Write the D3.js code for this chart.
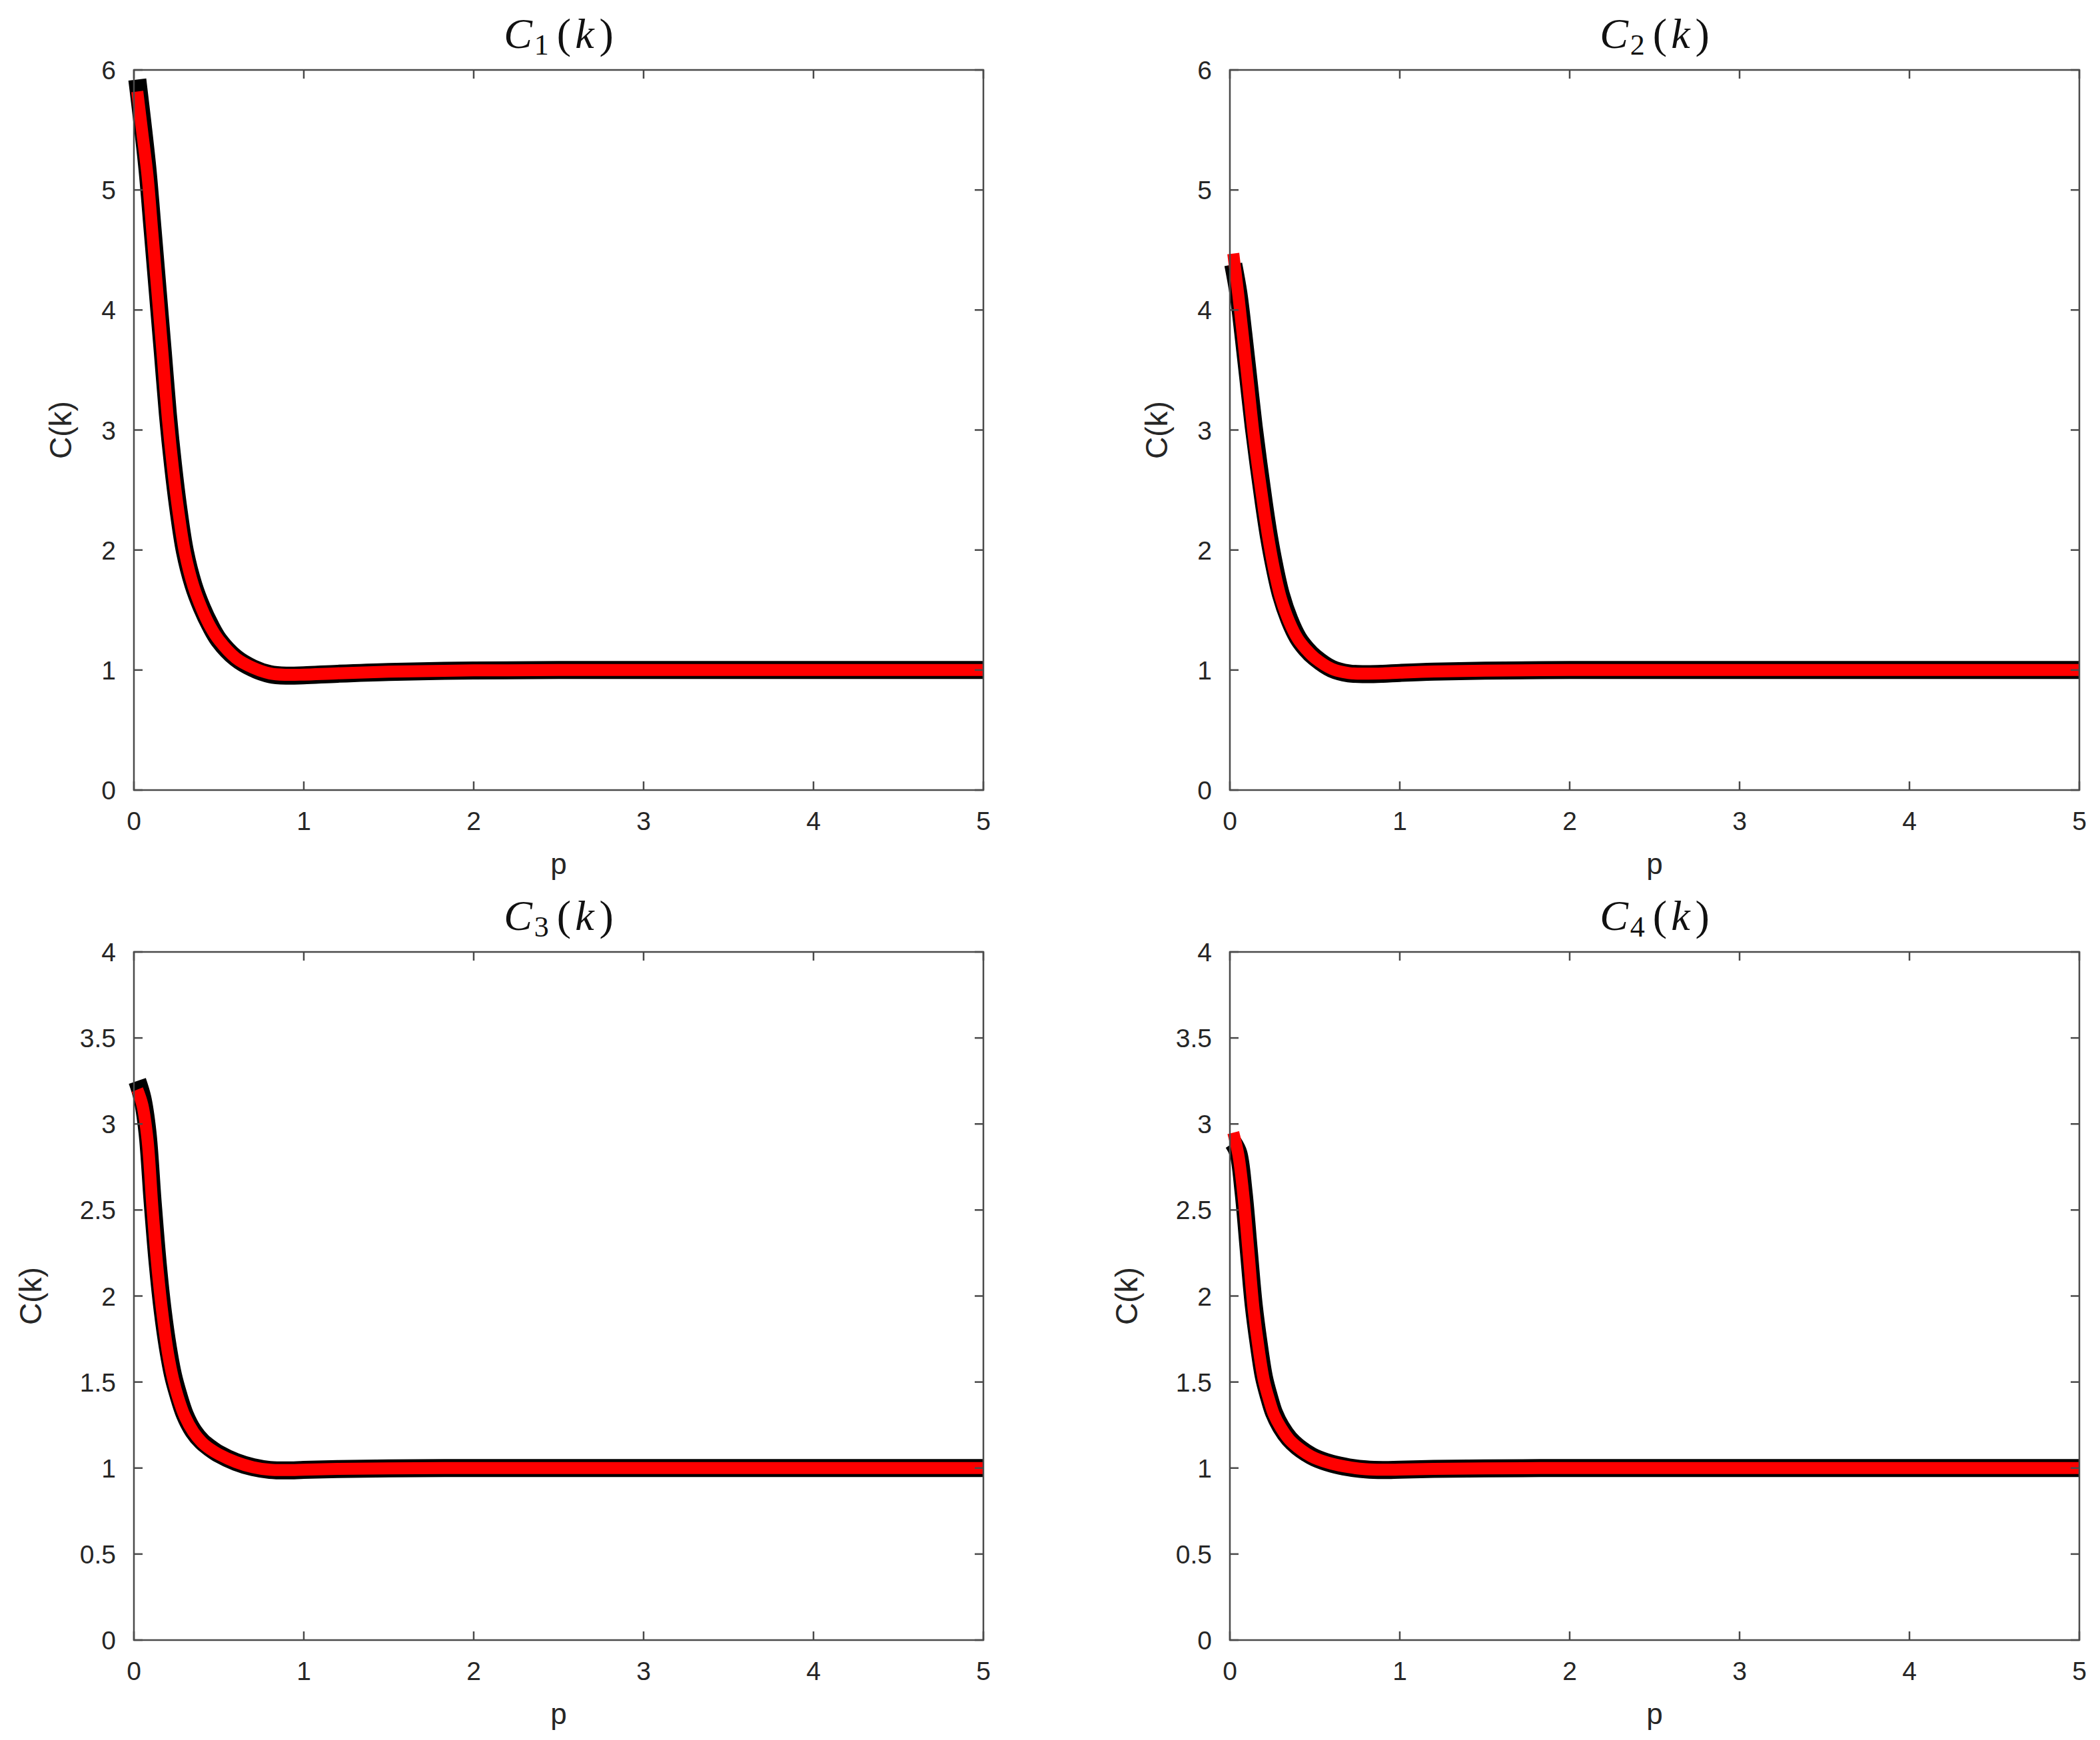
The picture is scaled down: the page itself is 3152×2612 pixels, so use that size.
<!DOCTYPE html>
<html>
<head>
<meta charset="utf-8">
<script src="https://cdn.jsdelivr.net/npm/d3@7"></script>
<style>
  html, body { margin: 0; padding: 0; background: #fff; }
  svg { display: block; }
  .tick-label { font-family: "Liberation Sans", Arial, Helvetica, sans-serif; fill: #262626; }
  .axis-label { font-family: "Liberation Sans", Arial, Helvetica, sans-serif; fill: #262626; }
  .title { font-family: "Liberation Serif", "DejaVu Serif", serif; fill: #111; }
</style>
</head>
<body>
<div id="chart"></div>
<script>
// ---- data ----
const pGrid = [0.02, 0.05, 0.08, 0.11, 0.14, 0.17, 0.20, 0.23, 0.26, 0.30, 0.35, 0.40, 0.45,
               0.50, 0.60, 0.70, 0.80, 0.90, 1.00, 1.20, 1.50, 2.00, 2.50, 3.00, 3.50, 4.00, 4.50, 5.00];

const c1Black = [5.92, 5.56, 5.17, 4.67, 4.16, 3.65, 3.13, 2.71, 2.36, 1.99, 1.71, 1.52, 1.37,
                 1.25, 1.10, 1.015, 0.966, 0.953, 0.956, 0.969, 0.984, 0.996, 1.0, 1.0, 1.0, 1.0, 1.0, 1.0];
const c1Red   = [5.82, 5.47, 5.12, 4.62, 4.12, 3.61, 3.09, 2.68, 2.34, 1.98, 1.70, 1.51, 1.36,
                 1.25, 1.10, 1.02, 0.972, 0.960, 0.962, 0.973, 0.986, 0.997, 1.0, 1.0, 1.0, 1.0, 1.0, 1.0];

const c2Black = [4.38, 4.14, 3.79, 3.41, 3.03, 2.70, 2.39, 2.11, 1.88, 1.63, 1.42, 1.27, 1.175,
                 1.105, 1.01, 0.972, 0.966, 0.969, 0.976, 0.987, 0.995, 1.0, 1.0, 1.0, 1.0, 1.0, 1.0, 1.0];
const c2Red   = [4.47, 4.12, 3.74, 3.35, 2.96, 2.64, 2.34, 2.07, 1.84, 1.60, 1.40, 1.26, 1.17,
                 1.10, 1.01, 0.975, 0.970, 0.972, 0.978, 0.988, 0.995, 1.0, 1.0, 1.0, 1.0, 1.0, 1.0, 1.0];

const c3Black = [3.25, 3.15, 2.95, 2.55, 2.19, 1.91, 1.70, 1.54, 1.43, 1.31, 1.215, 1.155, 1.115,
                 1.082, 1.035, 1.005, 0.989, 0.986, 0.989, 0.994, 0.998, 1.0, 1.0, 1.0, 1.0, 1.0, 1.0, 1.0];
const c3Red   = [3.20, 3.11, 2.91, 2.50, 2.15, 1.88, 1.67, 1.52, 1.41, 1.30, 1.21, 1.15, 1.11,
                 1.08, 1.035, 1.005, 0.990, 0.988, 0.990, 0.995, 0.998, 1.0, 1.0, 1.0, 1.0, 1.0, 1.0, 1.0];

const c4Black = [2.89, 2.83, 2.61, 2.28, 1.95, 1.72, 1.53, 1.415, 1.32, 1.24, 1.17, 1.123, 1.088,
                 1.06, 1.025, 1.004, 0.992, 0.988, 0.990, 0.995, 0.998, 1.0, 1.0, 1.0, 1.0, 1.0, 1.0, 1.0];
const c4Red   = [2.95, 2.82, 2.58, 2.25, 1.92, 1.69, 1.51, 1.40, 1.31, 1.235, 1.165, 1.12, 1.085,
                 1.058, 1.025, 1.005, 0.993, 0.990, 0.991, 0.995, 0.998, 1.0, 1.0, 1.0, 1.0, 1.0, 1.0, 1.0];

const xTicks      = [0, 1, 2, 3, 4, 5];
const yTicksTop   = [0, 1, 2, 3, 4, 5, 6];
const yTicksBot   = [0, 0.5, 1, 1.5, 2, 2.5, 3, 3.5, 4];
const titleSubs   = ["1", "2", "3", "4"];
const xLabel = "p";
const yLabel = "C(k)";

// ---- layout ----
const W = 3152, H = 2612;
const cols = [{ x0: 201, x1: 1476 }, { x0: 1846, x1: 3121 }];
const rows = [{ y0: 105, y1: 1186, ticks: yTicksTop, ylabOff: 111 },
              { y0: 1429, y1: 2462, ticks: yTicksBot, ylabOff: 156 }];

const panels = [
  { col: 0, row: 0, black: c1Black, red: c1Red, sub: titleSubs[0] },
  { col: 1, row: 0, black: c2Black, red: c2Red, sub: titleSubs[1] },
  { col: 0, row: 1, black: c3Black, red: c3Red, sub: titleSubs[2] },
  { col: 1, row: 1, black: c4Black, red: c4Red, sub: titleSubs[3] }
];

const AXIS_COLOR = "#4a4a4a";
const TICK_LEN = 13;
const fmt = d3.format("~g");

const svg = d3.select("#chart").append("svg")
  .attr("width", W).attr("height", H);
svg.append("rect").attr("width", W).attr("height", H).attr("fill", "#fff");

panels.forEach(pn => {
  const c = cols[pn.col], r = rows[pn.row];
  const yTicks = r.ticks;
  const x = d3.scaleLinear().domain([0, 5]).range([c.x0, c.x1]);
  const y = d3.scaleLinear().domain([0, d3.max(yTicks)]).range([r.y1, r.y0]);

  const g = svg.append("g");

  // curves: black underneath, red on top
  const line = d3.line()
    .x((d, i) => x(pGrid[i]))
    .y(d => y(d))
    .curve(d3.curveCatmullRom.alpha(0.5));

  g.append("path").datum(pn.black)
    .attr("d", line).attr("fill", "none")
    .attr("stroke", "#000").attr("stroke-width", 27)
    .attr("stroke-linejoin", "round").attr("stroke-linecap", "butt");

  g.append("path").datum(pn.red)
    .attr("d", line).attr("fill", "none")
    .attr("stroke", "#ff0000").attr("stroke-width", 18)
    .attr("stroke-linejoin", "round").attr("stroke-linecap", "butt");

  // box
  g.append("rect")
    .attr("x", c.x0).attr("y", r.y0)
    .attr("width", c.x1 - c.x0).attr("height", r.y1 - r.y0)
    .attr("fill", "none").attr("stroke", AXIS_COLOR).attr("stroke-width", 2.5);

  // ticks (inward, mirrored on top/right)
  const tk = g.append("g").attr("stroke", AXIS_COLOR).attr("stroke-width", 2.5);
  xTicks.forEach(t => {
    tk.append("line").attr("x1", x(t)).attr("x2", x(t)).attr("y1", r.y1).attr("y2", r.y1 - TICK_LEN);
    tk.append("line").attr("x1", x(t)).attr("x2", x(t)).attr("y1", r.y0).attr("y2", r.y0 + TICK_LEN);
  });
  yTicks.forEach(t => {
    tk.append("line").attr("x1", c.x0).attr("x2", c.x0 + TICK_LEN).attr("y1", y(t)).attr("y2", y(t));
    tk.append("line").attr("x1", c.x1).attr("x2", c.x1 - TICK_LEN).attr("y1", y(t)).attr("y2", y(t));
  });

  // tick labels
  g.selectAll("text.xt").data(xTicks).join("text")
    .attr("class", "tick-label xt")
    .attr("x", d => x(d)).attr("y", r.y1 + 60)
    .attr("text-anchor", "middle").attr("font-size", 39)
    .text(fmt);

  g.selectAll("text.yt").data(yTicks).join("text")
    .attr("class", "tick-label yt")
    .attr("x", c.x0 - 27).attr("y", d => y(d))
    .attr("dy", "0.36em")
    .attr("text-anchor", "end").attr("font-size", 39)
    .text(fmt);

  // axis labels
  g.append("text").attr("class", "axis-label")
    .attr("x", (c.x0 + c.x1) / 2).attr("y", r.y1 + 126)
    .attr("text-anchor", "middle").attr("font-size", 44)
    .text(xLabel);

  const ycx = c.x0 - r.ylabOff, ycy = (r.y0 + r.y1) / 2;
  g.append("text").attr("class", "axis-label")
    .attr("transform", `translate(${ycx},${ycy}) rotate(-90)`)
    .attr("text-anchor", "middle").attr("dy", "0.36em").attr("font-size", 46)
    .text(yLabel);

  // title C_n(k)
  const t = g.append("text").attr("class", "title")
    .attr("x", (c.x0 + c.x1) / 2).attr("y", r.y0 - 33)
    .attr("text-anchor", "middle").attr("font-size", 64);
  t.append("tspan").attr("font-style", "italic").text("C");
  t.append("tspan").attr("font-size", 44).attr("dx", 3).attr("dy", 10).text(pn.sub);
  t.append("tspan").attr("dx", 12).attr("dy", -10).text("(");
  t.append("tspan").attr("dx", 6).attr("font-style", "italic").text("k");
  t.append("tspan").attr("dx", 8).text(")");
});
</script>
</body>
</html>
